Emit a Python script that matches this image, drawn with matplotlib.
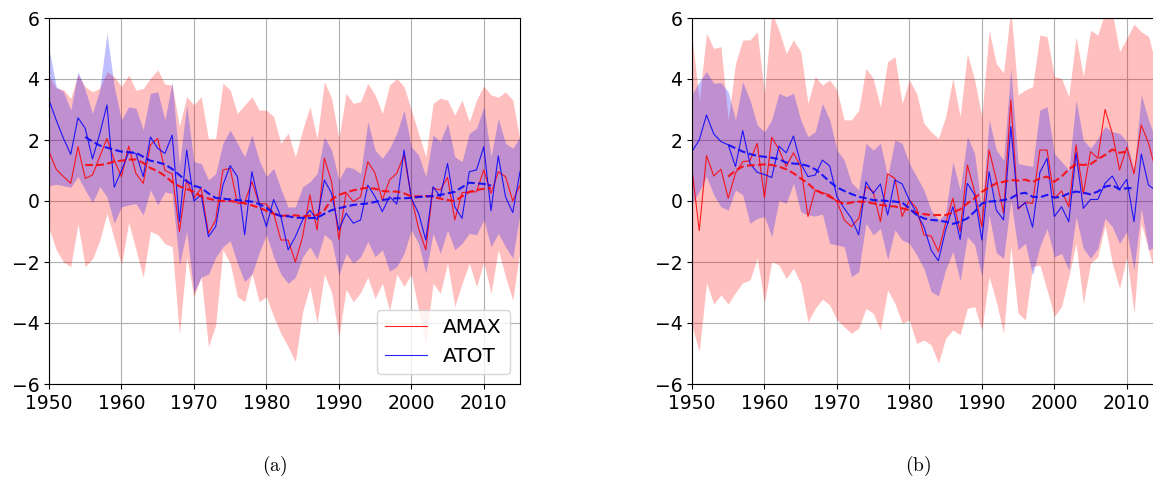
import numpy as np
import matplotlib
matplotlib.use("Agg")
import matplotlib.pyplot as plt

plt.rcParams['mathtext.fontset'] = 'cm'

# ---------------- Panel (a) ----------------
years_a = list(range(1950, 2016))
amax_a = [1.62, 1.04, 0.8, 0.58, 1.78, 0.74, 0.85, 1.45, 2.05, 1.34, 0.8, 1.8, 0.9, 0.58, 1.84, 2.05, 1.0,
          0.89, -1.0, 0.69, 0.09, 0.42, -1.06, -0.62, 1.02, 1.07, -0.08, -0.05, 0.63, -0.08, -0.1, -0.4,
          -1.28, -1.28, -2.0, -1.17, 0.2, -0.95, 1.4, 0.63, -1.26, 0.27, -0.02, 0.14, 1.29, 0.91, 0.03,
          0.69, 0.91, 1.51, 0.14, -0.9, -1.6, 0.42, 0.36, 0.78, -0.62, 0.27, 0.3, 0.3, 1.02, 0.25, 0.96,
          0.8, 0.0, 0.52]
atot_a = [3.31, 2.65, 2.05, 1.53, 2.73, 2.38, 1.38, 2.2, 3.15, 0.45, 1.0, 1.6, 1.56, 0.8, 2.1, 1.73, 1.56,
          2.16, -0.68, 1.67, 0.0, 0.2, -1.17, -0.84, 0.52, 1.16, 0.8, -1.11, 0.96, -0.08, -0.84, 0.05,
          -0.51, -1.6, -1.17, -0.62, -0.3, -0.62, 0.69, 0.25, -0.95, -0.4, -0.73, -0.62, 0.52, 0.14, -0.35,
          0.14, -0.1, 1.67, 0.09, -0.4, -1.28, 0.47, 0.14, 1.23, -0.19, -0.57, 0.96, 1.02, 1.78, -0.32,
          1.48, 0.14, -0.38, 0.96]
amax_hi_a = [4.1, 3.7, 3.65, 3.37, 4.15, 3.75, 3.58, 3.7, 4.24, 4.08, 3.75, 4.13, 3.63, 3.69, 4.02, 4.3,
             3.83, 3.8, 2.44, 3.42, 3.15, 3.42, 2.05, 2.05, 3.86, 3.64, 2.87, 3.15, 3.42, 2.98, 2.98, 2.77,
             1.89, 2.22, 1.45, 2.33, 3.09, 2.05, 3.91, 3.37, 2.05, 3.53, 3.2, 3.26, 3.86, 3.48, 2.87, 3.8,
             4.02, 3.75, 2.98, 2.22, 1.45, 3.2, 3.37, 3.31, 2.82, 3.31, 2.6, 3.31, 3.77, 3.48, 3.4, 3.58,
             3.31, 2.0]
amax_lo_a = [-0.9, -1.6, -2.0, -2.15, -0.75, -2.15, -1.9, -1.3, -0.4, -1.25, -2.1, -0.7, -1.6, -2.5, -1.0,
             -1.1, -1.4, -1.5, -4.39, -1.83, -3.14, -2.48, -4.78, -4.07, -1.6, -2.04, -3.14, -3.3, -2.37,
             -3.3, -3.14, -3.79, -4.34, -4.78, -5.27, -3.63, -2.8, -4.0, -2.4, -3.0, -4.45, -2.9, -3.3,
             -3.0, -2.5, -3.2, -2.7, -3.6, -2.4, -2.8, -2.4, -3.57, -4.67, -2.7, -3.03, -2.04, -3.46, -2.7,
             -2.04, -2.81, -2.0, -3.03, -1.6, -2.48, -3.25, -1.6]
atot_hi_a = [5.0, 3.75, 3.58, 2.98, 4.24, 3.64, 2.87, 3.64, 5.5, 3.75, 2.66, 3.09, 3.04, 2.33, 3.53, 3.58,
             2.66, 3.91, 1.18, 3.15, 1.29, 1.23, 0.69, 0.9, 1.89, 2.33, 1.89, 1.45, 2.16, 1.34, 0.8, 1.07,
             0.4, -0.2, -0.19, 0.47, 0.63, 0.9, 2.1, 1.67, 0.69, 1.12, 1.07, 0.9, 2.6, 1.67, 1.4, 1.73,
             2.22, 2.98, 1.78, 1.51, 0.8, 2.16, 1.95, 2.55, 1.45, 1.29, 2.22, 2.38, 3.09, 1.45, 2.71, 1.89,
             1.73, 2.1]
atot_lo_a = [0.5, 0.55, 0.5, 0.45, 0.8, 0.36, -0.05, 0.47, 0.14, -0.73, -0.19, -0.13, -0.08, -0.46, 0.36,
             -0.13, 0.3, 0.25, -2.1, -1.0, -3.0, -2.5, -2.4, -1.85, -1.5, -1.3, -2.04, -2.64, -2.4, -1.7,
             -1.1, -1.83, -2.4, -2.7, -2.5, -1.83, -1.5, -1.9, -1.1, -1.3, -2.43, -1.72, -2.04, -1.83,
             -1.33, -1.83, -1.6, -2.3, -2.15, -1.72, -0.95, -1.39, -2.37, -1.06, -1.72, -0.95, -1.6, -1.39,
             -1.06, -1.11, -0.62, -1.5, -1.06, -1.5, -1.88, -0.4]
smooth_years_a = list(range(1955, 2012))
amax_smooth_a = [1.18, 1.18, 1.18, 1.22, 1.3, 1.32, 1.36, 1.36, 1.25, 1.08, 0.98, 0.82, 0.62, 0.48, 0.4,
                 0.3, 0.15, 0.08, 0.02, 0.0, 0.0, -0.03, -0.08, -0.14, -0.22, -0.32, -0.42, -0.48, -0.48,
                 -0.47, -0.5, -0.48, -0.46, -0.3, 0.05, 0.2, 0.28, 0.35, 0.4, 0.44, 0.4, 0.33, 0.31, 0.31,
                 0.25, 0.15, 0.15, 0.16, 0.14, 0.08, 0.03, 0.0, 0.15, 0.3, 0.36, 0.4, 0.42]
atot_smooth_a = [2.1, 1.95, 1.82, 1.75, 1.68, 1.62, 1.6, 1.58, 1.45, 1.32, 1.27, 1.2, 1.05, 0.85, 0.65,
                 0.5, 0.43, 0.25, 0.1, 0.08, 0.05, 0.03, 0.0, -0.02, -0.1, -0.22, -0.4, -0.5, -0.5, -0.55,
                 -0.55, -0.56, -0.55, -0.42, -0.3, -0.24, -0.18, -0.13, -0.1, -0.08, -0.03, 0.03, 0.07,
                 0.09, 0.09, 0.1, 0.13, 0.15, 0.16, 0.2, 0.25, 0.3, 0.45, 0.6, 0.58, 0.56, 0.51]

# ---------------- Panel (b) ----------------
years_b = list(range(1950, 2015))
amax_b = [1.04, -0.97, 1.49, 0.82, 1.04, 0.09, 0.91, 1.29, 1.32, 1.89, 0.11, 2.09, 1.69, 1.13, 1.58, 1.13,
          -0.51, 0.36, 0.27, 0.2, -0.02, -0.62, -0.84, -0.57, 0.47, 0.31, -0.68, 0.89, 0.74, -0.51, 0.03,
          -0.24, -1.11, -1.15, -1.66, -0.73, 0.09, -1.0, 1.18, 0.31, -0.84, 1.67, 0.7, -0.4, 3.31, -0.27,
          -0.05, -0.08, 1.67, 1.67, 0.09, 0.33, -0.19, 1.84, 0.23, 1.62, 1.4, 3.0, 2.22, 1.02, 1.76, 0.89,
          2.49, 1.9, 1.0]
atot_b = [1.62, 2.0, 2.82, 2.2, 1.95, 1.84, 1.13, 2.31, 1.23, 0.94, 0.87, 0.77, 1.8, 1.58, 2.13, 1.23, 0.8,
          0.85, 1.34, 1.15, 0.14, -0.24, -0.57, -1.11, 0.63, 0.25, 0.56, -0.46, 0.69, 0.56, 0.03, -0.4,
          -0.84, -1.61, -1.96, -0.95, -0.19, -1.26, 0.58, 0.2, -1.28, 0.96, -0.3, -0.62, 2.44, -0.24,
          -0.05, -0.86, 0.93, 1.4, -0.51, -0.19, -0.68, 1.58, -0.24, 0.05, 0.05, 0.58, 0.82, 0.38, 0.71,
          -0.68, 1.54, 0.52, 0.35]
amax_hi_b = [5.4, 3.3, 5.5, 5.0, 5.06, 2.66, 4.51, 5.28, 5.28, 5.55, 3.53, 6.2, 5.6, 4.84, 5.28, 4.9, 3.2,
             4.08, 3.8, 3.97, 3.64, 2.66, 2.66, 2.98, 4.35, 4.02, 3.09, 4.57, 4.73, 3.2, 3.97, 3.53, 2.55,
             2.27, 2.05, 2.77, 4.02, 2.77, 4.84, 3.97, 2.77, 5.6, 4.5, 4.2, 6.3, 3.48, 3.64, 3.75, 5.44,
             5.39, 4.08, 4.02, 3.42, 5.39, 4.08, 5.6, 5.44, 6.2, 6.2, 4.9, 5.33, 5.8, 5.55, 5.4, 4.5]
amax_lo_b = [-4.1, -4.94, -2.68, -3.38, -3.08, -3.38, -3.0, -2.68, -2.59, -1.88, -3.33, -1.99, -2.1, -2.54,
             -2.21, -2.7, -3.96, -3.52, -3.22, -3.41, -3.9, -4.12, -4.34, -4.17, -3.52, -3.68, -4.23,
             -2.92, -3.36, -4.01, -3.9, -4.67, -4.56, -4.72, -5.32, -4.5, -4.23, -4.39, -3.52, -3.46,
             -4.23, -2.48, -3.3, -4.34, -1.5, -3.68, -3.9, -2.15, -2.1, -2.92, -3.79, -3.46, -2.48, -1.39,
             -3.36, -2.04, -1.83, -0.8, -2.04, -2.86, -1.83, -3.68, -0.73, -1.6, -2.5]
atot_hi_b = [3.5, 3.91, 4.24, 3.86, 3.88, 3.58, 2.66, 3.91, 3.31, 2.49, 2.27, 2.66, 3.53, 3.42, 3.53, 2.66,
             2.11, 2.27, 3.2, 2.66, 1.67, 1.34, 0.6, 0.36, 1.89, 1.67, 1.89, 0.8, 2.0, 1.89, 1.23, 0.8,
             0.36, -0.3, -0.62, -0.4, 1.29, 0.36, 2.11, 1.56, -0.3, 2.66, 1.67, 1.34, 4.35, 1.23, 1.18,
             1.13, 2.98, 3.09, 1.56, 1.29, 1.02, 3.31, 2.0, 1.73, 2.05, 2.44, 2.27, 2.22, 1.95, 1.02, 3.48,
             2.66, 2.0]
atot_lo_b = [-0.08, 0.31, 0.8, 0.2, -0.19, -0.3, 0.36, 0.2, -0.73, -0.57, -0.51, -1.17, 0.03, -0.08, 0.58,
             -0.35, -0.46, -0.49, -0.43, -1.39, -1.44, -1.5, -2.48, -2.32, -0.73, -1.11, -0.9, -1.93,
             -0.95, -1.28, -1.39, -1.77, -2.21, -2.97, -3.11, -2.26, -1.66, -2.62, -1.17, -1.44, -2.48,
             -0.46, -1.7, -1.88, 0.03, -1.6, -1.39, -2.43, -1.5, -0.9, -1.83, -1.72, -2.26, -0.51, -1.55,
             -1.88, -1.55, -0.57, -0.84, -1.39, -1.0, -2.26, -0.24, -1.6, -1.5]
amax_smooth_years_b = list(range(1955, 2011))
amax_smooth_b = [0.8, 1.0, 1.13, 1.17, 1.18, 1.2, 1.18, 1.13, 1.04, 0.91, 0.74, 0.58, 0.36, 0.25, 0.14,
                 0.01, -0.1, -0.05, -0.02, -0.03, -0.08, -0.13, -0.16, -0.18, -0.24, -0.3, -0.38, -0.43,
                 -0.46, -0.46, -0.46, -0.38, -0.27, -0.08, 0.09, 0.3, 0.45, 0.58, 0.63, 0.69, 0.67, 0.7,
                 0.62, 0.74, 0.8, 0.63, 0.8, 1.04, 1.21, 1.18, 1.21, 1.37, 1.51, 1.69, 1.58, 1.62]
atot_smooth_years_b = list(range(1955, 2012))
atot_smooth_b = [1.84, 1.73, 1.62, 1.54, 1.48, 1.45, 1.42, 1.37, 1.26, 1.23, 1.21, 1.15, 1.04, 0.85, 0.63,
                 0.45, 0.33, 0.23, 0.14, 0.09, 0.03, 0.02, 0.0, -0.02, -0.05, -0.24, -0.46, -0.57, -0.62,
                 -0.64, -0.68, -0.75, -0.68, -0.57, -0.35, -0.08, -0.02, 0.0, 0.03, 0.09, 0.23, 0.27, 0.14,
                 0.12, 0.2, 0.11, 0.14, 0.25, 0.31, 0.27, 0.22, 0.31, 0.47, 0.52, 0.38, 0.42, 0.42]

labels = ["AMAX", "ATOT"]
yticks = [-6, -4, -2, 0, 2, 4, 6]
xticks = [1950, 1960, 1970, 1980, 1990, 2000, 2010]

fig = plt.figure(figsize=(11.53, 4.80), dpi=100)
ax_a = fig.add_axes([49 / 1153, 1 - 384 / 480, 471 / 1153, 366 / 480])
ax_b = fig.add_axes([692 / 1153, 1 - 384 / 480, 471 / 1153, 366 / 480])


def draw(ax, years, amax, atot, a_hi, a_lo, t_hi, t_lo, sy_a, s_a, sy_t, s_t, legend):
    ax.fill_between(years, a_lo, a_hi, color='red', alpha=0.25, lw=0)
    ax.fill_between(years, t_lo, t_hi, color='blue', alpha=0.25, lw=0)
    ax.plot(years, amax, color='red', lw=0.8, alpha=0.85, label=labels[0])
    ax.plot(years, atot, color='blue', lw=0.8, alpha=0.85, label=labels[1])
    ax.plot(sy_a, s_a, color='red', lw=1.5, ls='--', alpha=0.85)
    ax.plot(sy_t, s_t, color='blue', lw=1.5, ls='--', alpha=0.85)
    ax.set_xlim(1950, 2015)
    ax.set_ylim(-6, 6)
    ax.set_xticks(xticks)
    ax.set_yticks(yticks)
    ax.grid(True, color='#b0b0b0', lw=0.8)
    ax.set_axisbelow(True)
    ax.tick_params(labelsize=13.5)
    if legend:
        ax.legend(loc='lower right', fontsize=14.5, handlelength=2.1)


draw(ax_a, years_a, amax_a, atot_a, amax_hi_a, amax_lo_a, atot_hi_a, atot_lo_a,
     smooth_years_a, amax_smooth_a, smooth_years_a, atot_smooth_a, True)
draw(ax_b, years_b, amax_b, atot_b, amax_hi_b, amax_lo_b, atot_hi_b, atot_lo_b,
     amax_smooth_years_b, amax_smooth_b, atot_smooth_years_b, atot_smooth_b, False)

fig.text(275 / 1153, 1 - 466 / 480, r'$\mathrm{(a)}$', ha='center', va='center', fontsize=14)
fig.text(918 / 1153, 1 - 466 / 480, r'$\mathrm{(b)}$', ha='center', va='center', fontsize=14)

fig.savefig('out.png', dpi=100)
